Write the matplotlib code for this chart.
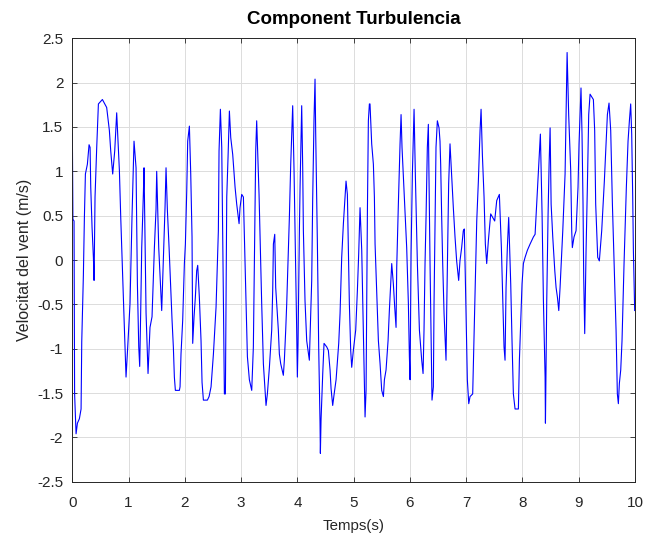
"""
Plot of the turbulence component of the wind speed.
"""

from matplotlib import pyplot as plt

# sampled points (time in s, speed in m/s)
t = [0.0, 0.01, 0.03, 0.04, 0.066, 0.09, 0.125, 0.155, 0.167, 0.196, 0.214, 0.232, 0.267, 0.297, 0.315,
     0.327, 0.35, 0.374, 0.386, 0.403, 0.433, 0.463, 0.534, 0.61, 0.658, 0.682, 0.717, 0.753, 0.788,
     0.836, 0.86, 0.883, 0.907, 0.918, 0.943, 0.954, 0.984, 1.025, 1.06, 1.096, 1.132, 1.156, 1.18,
     1.197, 1.215, 1.233, 1.262, 1.274, 1.31, 1.345, 1.38, 1.416, 1.458, 1.487, 1.499, 1.535, 1.588,
     1.647, 1.665, 1.689, 1.719, 1.748, 1.772, 1.795, 1.813, 1.831, 1.902, 1.914, 1.931, 1.961, 1.991,
     2.009, 2.033, 2.05, 2.08, 2.104, 2.127, 2.139, 2.163, 2.186, 2.21, 2.228, 2.257, 2.287, 2.305,
     2.329, 2.4, 2.43, 2.465, 2.507, 2.554, 2.595, 2.607, 2.631, 2.655, 2.672, 2.684, 2.702, 2.72,
     2.744, 2.767, 2.791, 2.815, 2.85, 2.892, 2.921, 2.963, 2.98, 3.01, 3.04, 3.063, 3.087, 3.111,
     3.146, 3.188, 3.217, 3.241, 3.259, 3.276, 3.318, 3.336, 3.365, 3.395, 3.424, 3.442, 3.466, 3.502,
     3.543, 3.561, 3.573, 3.597, 3.614, 3.661, 3.679, 3.703, 3.75, 3.768, 3.792, 3.81, 3.857, 3.881,
     3.916, 3.94, 3.964, 3.987, 3.999, 4.011, 4.035, 4.047, 4.076, 4.094, 4.106, 4.135, 4.165, 4.212,
     4.254, 4.271, 4.295, 4.313, 4.325, 4.355, 4.378, 4.402, 4.408, 4.42, 4.45, 4.473, 4.521, 4.55,
     4.58, 4.598, 4.627, 4.651, 4.687, 4.734, 4.758, 4.787, 4.817, 4.864, 4.888, 4.906, 4.923, 4.947,
     4.965, 4.994, 5.036, 5.066, 5.089, 5.113, 5.143, 5.172, 5.202, 5.22, 5.232, 5.244, 5.261, 5.279,
     5.29, 5.32, 5.35, 5.368, 5.38, 5.409, 5.439, 5.469, 5.498, 5.528, 5.546, 5.575, 5.611, 5.634,
     5.658, 5.676, 5.705, 5.729, 5.753, 5.765, 5.794, 5.824, 5.842, 5.859, 5.895, 5.942, 5.972, 5.99,
     6.002, 6.02, 6.043, 6.073, 6.097, 6.132, 6.168, 6.209, 6.233, 6.25, 6.268, 6.286, 6.309, 6.327,
     6.339, 6.357, 6.375, 6.392, 6.416, 6.428, 6.446, 6.463, 6.487, 6.517, 6.534, 6.546, 6.564, 6.582,
     6.606, 6.641, 6.653, 6.671, 6.688, 6.712, 6.736, 6.771, 6.801, 6.83, 6.866, 6.889, 6.919, 6.948,
     6.966, 6.984, 7.02, 7.045, 7.068, 7.115, 7.139, 7.157, 7.187, 7.216, 7.246, 7.264, 7.287, 7.317,
     7.34, 7.364, 7.394, 7.435, 7.47, 7.506, 7.542, 7.589, 7.625, 7.649, 7.672, 7.69, 7.708, 7.731,
     7.755, 7.791, 7.814, 7.838, 7.868, 7.927, 7.945, 7.969, 7.992, 8.016, 8.046, 8.087, 8.135, 8.194,
     8.224, 8.265, 8.289, 8.318, 8.348, 8.372, 8.402, 8.408, 8.431, 8.455, 8.473, 8.491, 8.509, 8.538,
     8.574, 8.597, 8.621, 8.645, 8.668, 8.716, 8.757, 8.775, 8.793, 8.821, 8.857, 8.875, 8.886, 8.916,
     8.952, 8.987, 9.005, 9.04, 9.058, 9.076, 9.088, 9.106, 9.13, 9.153, 9.177, 9.201, 9.26, 9.283,
     9.301, 9.337, 9.366, 9.408, 9.455, 9.509, 9.538, 9.568, 9.598, 9.633, 9.663, 9.686, 9.704, 9.722,
     9.746, 9.769, 9.805, 9.846, 9.876, 9.9, 9.923, 9.941, 9.959, 9.971, 9.994, 10.0]
v = [1.42, 0.46, 0.44, -1.51, -1.96, -1.84, -1.79, -1.68, -0.92, -0.17, 0.48, 0.97, 1.08, 1.30, 1.27,
     0.82, 0.37, 0.03, -0.23, 0.71, 1.27, 1.76, 1.81, 1.72, 1.46, 1.23, 0.97, 1.23, 1.66,
     1.01, 0.48, 0.03, -0.42, -0.64, -1.09, -1.32, -0.98, -0.49, 0.48, 1.34, 1.04, -0.27, -0.98,
     -1.20, -0.57, 0.14, 0.74, 1.04, -0.60, -1.28, -0.76, -0.64, 0.14, 0.57, 1.00, 0.14, -0.57,
     0.59, 1.04, 0.56, 0.14, -0.31, -0.68, -0.98, -1.32, -1.47, -1.47, -1.43, -1.06, -0.68, -0.04,
     0.18, 0.78, 1.34, 1.51, 0.97, 0.26, -0.94, -0.64, -0.42, -0.12, -0.06, -0.42, -0.91, -1.38,
     -1.58, -1.58, -1.54, -1.43, -1.06, -0.53, 0.33, 1.23, 1.70, 1.27, 0.33, -0.42, -1.51, -1.51,
     0.71, 1.16, 1.68, 1.38, 1.19, 0.82, 0.63, 0.41, 0.59, 0.74, 0.71, 0.14, -0.49, -1.09,
     -1.35, -1.47, -0.98, 0.26, 1.23, 1.57, 0.74, 0.26, -0.49, -1.17, -1.47, -1.64, -1.51, -1.21,
     -0.79, -0.34, 0.18, 0.29, -0.31, -0.79, -1.06, -1.17, -1.30, -1.13, -0.79, -0.49, 0.48, 1.08,
     1.74, 1.01, 0.11, -0.79, -1.32, -0.94, 0.33, 0.82, 1.74, 1.04, 0.33, -0.46, -0.91, -1.13,
     -0.23, 0.67, 1.59, 2.04, 1.42, 0.18, -0.98, -1.84, -2.18, -1.80, -1.28, -0.94, -0.98, -1.02,
     -1.24, -1.45, -1.64, -1.52, -1.35, -0.94, -0.60, 0.03, 0.41, 0.89, 0.74, 0.14, -0.49, -1.02,
     -1.21, -1.02, -0.79, -0.34, 0.07, 0.59, 0.11, -0.79, -1.77, -1.47, -0.42, 0.56, 1.57, 1.76,
     1.76, 1.31, 1.08, 0.71, 0.18, -0.34, -0.91, -1.17, -1.47, -1.54, -1.35, -1.24, -0.91, -0.57,
     -0.27, -0.04, -0.27, -0.53, -0.76, -0.08, 0.63, 1.31, 1.64, 1.27, 0.78, 0.14, -0.49, -1.09,
     -1.35, 0.07, 0.97, 1.70, 0.93, -0.04, -0.79, -1.13, -1.28, -0.79, -0.04, 0.48, 1.27, 1.53,
     0.86, -0.04, -0.79, -1.58, -1.43, -0.49, 0.41, 1.27, 1.57, 1.49, 1.34, 1.08, 0.48, -0.04,
     -0.60, -1.13, -0.57, 0.14, 0.86, 1.31, 1.01, 0.59, 0.26, -0.01, -0.23, -0.01, 0.14, 0.33,
     0.35, -0.19, -1.35, -1.62, -1.54, -1.51, -0.87, -0.34, 0.44, 0.89, 1.46, 1.70, 1.19, 0.71,
     0.18, -0.04, 0.22, 0.52, 0.48, 0.44, 0.67, 0.74, 0.14, -0.42, -0.98, -1.13, -0.31, 0.14,
     0.48, -0.27, -0.91, -1.51, -1.68, -1.68, -1.13, -0.68, -0.27, -0.04, 0.03, 0.11, 0.18, 0.26,
     0.29, 0.78, 1.08, 1.42, 0.52, -0.46, -1.32, -1.84, -0.46, 0.52, 1.08, 1.49, 0.63, 0.26,
     -0.12, -0.31, -0.42, -0.57, -0.31, 0.33, 0.97, 1.68, 2.34, 1.64, 1.01, 0.33, 0.14, 0.26,
     0.33, 0.82, 1.31, 1.94, 1.42, 0.63, -0.19, -0.83, 0.11, 0.82, 1.64, 1.87, 1.81, 1.46,
     0.63, 0.03, -0.01, 0.33, 0.89, 1.64, 1.77, 1.46, 0.63, -0.12, -0.79, -1.51, -1.62, -1.39,
     -1.24, -0.91, -0.04, 0.82, 1.34, 1.57, 1.76, 1.42, 0.71, 0.11, -0.57, -0.57]

x_ticks = list(range(0, 11))
y_ticks = [-2.5, -2, -1.5, -1, -0.5, 0, 0.5, 1, 1.5, 2, 2.5]
y_labels = ["-2.5", "-2", "-1.5", "-1", "-0.5", "0", "0.5", "1", "1.5", "2", "2.5"]


def main():
    plt.rcParams['font.family'] = ['Liberation Sans', 'DejaVu Sans']
    fig = plt.figure(figsize=(6.46, 5.36), dpi=100)
    ax = fig.add_axes([0.112, 0.1013, 0.871, 0.8272])

    ax.plot(t, v, color=(0, 0, 1), linewidth=0.8)

    ax.set_xlim(0, 10)
    ax.set_ylim(-2.5, 2.5)
    ax.set_xticks(x_ticks)
    ax.set_yticks(y_ticks)
    ax.set_yticklabels(y_labels)

    ax.set_title("Component Turbulencia", fontsize=13.5, fontweight='bold', pad=10)
    ax.set_xlabel("Temps(s)", fontsize=10.8, color='#262626', labelpad=6)
    ax.set_ylabel("Velocitat del vent (m/s)", fontsize=11.5, color='#262626', labelpad=4)

    # matlab look: light grid, ticks inside on all sides
    ax.grid(True, color='#dcdcdc', linewidth=0.7)
    ax.set_axisbelow(True)
    ax.tick_params(direction='in', top=True, right=True, labelsize=11,
                   colors='#262626', length=3.6, width=0.6)
    ax.tick_params(axis='x', pad=10.5)
    ax.tick_params(axis='y', pad=6.5)
    for s in ax.spines.values():
        s.set_color('#262626')
        s.set_linewidth(0.7)

    fig.savefig("out.png", dpi=100)


if __name__ == "__main__":
    main()
